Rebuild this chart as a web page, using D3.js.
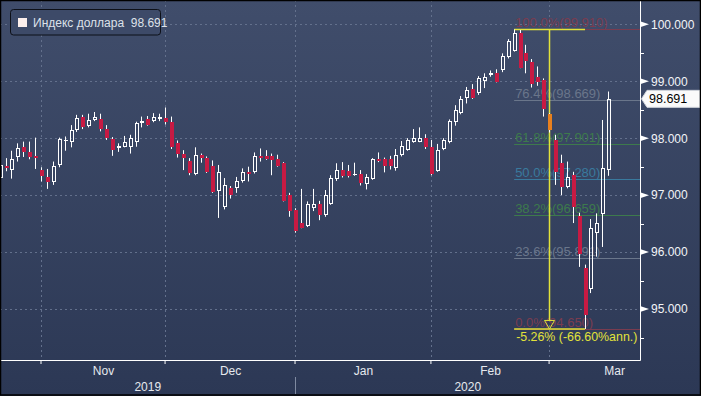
<!DOCTYPE html>
<html>
<head>
<meta charset="utf-8">
<script src="https://cdnjs.cloudflare.com/ajax/libs/d3/7.8.5/d3.min.js"></script>
<style>
  html, body { margin: 0; padding: 0; background: #000; }
  svg { display: block; font-family: "Liberation Sans", Arial, sans-serif; }
</style>
</head>
<body>
<div id="chart"></div>
<script>
// daily candles (weekdays), 23 Oct 2019 .. 16 Mar 2020
const opens = [97.30, 97.51, 97.44, 97.67, 97.85, 97.76, 97.69,
  97.44, 97.31, 97.23, 97.53, 97.95, 97.94, 98.14, 98.37, 98.21, 98.32, 98.33, 98.16, 97.98, 97.82, 97.85, 97.85, 97.94, 98.26, 98.33, 98.31, 98.33,
  98.35, 98.28, 97.91, 97.72, 97.60, 97.37, 97.70, 97.65, 97.51, 97.08, 96.80, 97.12, 97.13, 97.24, 97.41, 97.40, 97.69, 97.68, 97.68, 97.63, 97.56, 97.00,
  96.74, 96.51, 96.46, 96.78, 96.84, 96.65, 96.84, 97.28, 97.44, 97.42, 97.35, 97.37, 97.19, 97.28, 97.63, 97.63, 97.63, 97.48, 97.70, 97.79, 97.94, 97.94, 98.01,
  97.85, 97.42, 97.81, 97.93, 98.29, 98.45, 98.70, 98.86, 98.79, 99.00, 99.11, 99.14, 99.19, 99.43, 99.54, 99.85, 99.49, 99.34, 99.07, 99.02,
  98.42, 97.97, 97.56, 97.15, 97.35, 96.63, 95.72, 95.35, 96.33, 96.67, 97.45];
const highs = [97.59, 97.65, 97.78, 97.91, 97.94, 97.94, 98.01,
  97.49, 97.46, 97.59, 98.01, 98.03, 98.23, 98.41, 98.41, 98.43, 98.46, 98.43, 98.23, 98.02, 97.91, 98.04, 98.06, 98.29, 98.38, 98.39, 98.44, 98.43,
  98.54, 98.38, 97.96, 97.79, 97.65, 97.84, 97.73, 97.68, 97.61, 97.53, 97.30, 97.16, 97.32, 97.47, 97.50, 97.75, 97.82, 97.79, 97.73, 97.71, 97.58, 97.04,
  96.77, 97.11, 96.89, 97.11, 96.90, 97.09, 97.35, 97.56, 97.58, 97.53, 97.57, 97.44, 97.37, 97.65, 97.75, 97.66, 97.69, 97.81, 97.95, 98.00, 98.16, 98.19, 98.07,
  97.97, 97.90, 98.00, 98.33, 98.58, 98.74, 98.90, 98.95, 99.09, 99.14, 99.19, 99.21, 99.49, 99.74, 99.91, 99.90, 99.64, 99.39, 99.26, 99.05,
  98.44, 98.06, 97.71, 97.59, 97.41, 96.69, 95.78, 96.58, 96.68, 98.32, 98.82];
const lows = [97.24, 97.42, 97.29, 97.59, 97.67, 97.63, 97.46,
  97.24, 97.11, 97.18, 97.49, 97.78, 97.84, 98.11, 98.16, 98.19, 98.30, 98.12, 97.97, 97.69, 97.76, 97.84, 97.73, 97.85, 98.19, 98.22, 98.28, 98.30,
  98.24, 97.81, 97.66, 97.44, 97.35, 97.35, 97.57, 97.39, 97.04, 96.60, 96.75, 96.94, 97.04, 97.22, 97.24, 97.38, 97.59, 97.62, 97.35, 97.50, 96.89, 96.62,
  96.34, 96.42, 96.44, 96.72, 96.56, 96.62, 96.83, 97.25, 97.31, 97.31, 97.34, 97.17, 97.10, 97.27, 97.58, 97.40, 97.45, 97.43, 97.68, 97.78, 97.92, 97.93, 97.81,
  97.35, 97.41, 97.79, 97.91, 98.22, 98.42, 98.61, 98.69, 98.76, 98.88, 99.08, 98.98, 99.16, 99.40, 99.52, 99.23, 99.14, 98.89, 98.92, 98.38,
  98.10, 97.18, 97.00, 97.12, 96.51, 95.74, 94.65, 95.28, 95.92, 96.09, 97.34];
const closes = [97.53, 97.48, 97.63, 97.82, 97.76, 97.67, 97.65,
  97.34, 97.23, 97.51, 97.99, 97.97, 98.14, 98.35, 98.19, 98.32, 98.37, 98.16, 98.01, 97.79, 97.86, 97.94, 98.00, 98.26, 98.31, 98.24, 98.37, 98.38,
  98.28, 97.85, 97.73, 97.65, 97.39, 97.70, 97.65, 97.41, 97.06, 97.40, 97.18, 97.00, 97.24, 97.41, 97.37, 97.69, 97.65, 97.63, 97.62, 97.52, 96.90, 96.73,
  96.37, 96.43, 96.84, 96.84, 96.66, 97.00, 97.30, 97.45, 97.34, 97.34, 97.37, 97.22, 97.31, 97.63, 97.60, 97.51, 97.51, 97.70, 97.86, 97.97, 98.01, 98.00, 97.85,
  97.37, 97.80, 97.96, 98.30, 98.49, 98.68, 98.85, 98.71, 99.05, 99.07, 99.14, 98.99, 99.44, 99.71, 99.85, 99.24, 99.36, 98.96, 98.99, 98.51,
  98.14, 97.41, 97.15, 97.32, 96.80, 95.97, 94.90, 96.42, 96.51, 97.47, 98.691];

const monthNames = ["Nov", "Dec", "Jan", "Feb", "Mar"];
const yearLabels = ["2019", "2020"];
const yTicks = [95, 96, 97, 98, 99, 100];
const yHalfTicks = [94.5, 95.5, 96.5, 97.5, 98.5, 99.5];
const fibLevels = [1, 0.764, 0.618, 0.5, 0.382, 0.236, 0];
const fibColors = ["#7a3c50", "#6a768b", "#3d7a4c", "#3a7a9e", "#3d7a4c", "#6a768b", "#7a3c50"];
const seriesName = "Индекс доллара";
const measureText = "-5.26% (-66.60%ann.)";

// setting up svg and its dimensions
var w = 701, h = 396;
var plotW = 640, plotH = 360;

// trading days (weekdays) for the category axis, running to the end of March
const days = d3.timeDay.range(new Date(2019, 9, 23), new Date(2020, 3, 1))
    .filter(d => d.getDay() !== 0 && d.getDay() !== 6);

const data = opens.map((o, i) => ({ date: days[i], o: o, h: highs[i], l: lows[i], c: closes[i] }));

var svg = d3.select("#chart")
    .append("svg")
    .attr("width", w)
    .attr("height", h);

var defs = svg.append("defs");
var grad = defs.append("linearGradient")
    .attr("id", "bg").attr("x1", 0).attr("y1", 0).attr("x2", 0).attr("y2", 1);
grad.append("stop").attr("offset", "0%").attr("stop-color", "#404d6b");
grad.append("stop").attr("offset", "100%").attr("stop-color", "#2c3855");
defs.append("clipPath").attr("id", "plotclip")
    .append("rect").attr("width", plotW).attr("height", plotH);

svg.append("rect").attr("width", w).attr("height", h).attr("fill", "url(#bg)");

// scales
var step = 5.908;
var x = d3.scaleBand()
    .domain(days)
    .range([-2.81, -2.81 + days.length * step]);
const cx = d => x(d) + x.bandwidth() / 2;

var y = d3.scaleLinear()
    .domain([94.105, 100.427])
    .range([plotH, 0]);

const px = v => Math.round(v) + 0.5;

// first trading day of every month
const monthStarts = days.filter((d, i) => i > 0 && d.getMonth() !== days[i - 1].getMonth());

// grid
var grid = svg.append("g")
    .attr("stroke", "#63708c")
    .attr("stroke-dasharray", "2,3");
grid.selectAll("line.h").data(yTicks).join("line")
    .attr("class", "h")
    .attr("x1", 0).attr("x2", plotW)
    .attr("y1", d => px(y(d))).attr("y2", d => px(y(d)));
grid.selectAll("line.v").data(monthStarts).join("line")
    .attr("class", "v")
    .attr("x1", d => px(cx(d) - 0.5)).attr("x2", d => px(cx(d) - 0.5))
    .attr("y1", 0).attr("y2", plotH);

// fibonacci retracement between the highest high and the lowest low
const hiIdx = d3.maxIndex(highs), loIdx = d3.minIndex(lows);
const hi = highs[hiIdx], lo = lows[loIdx];
const fibX = cx(days[hiIdx]);
const fmt3 = d3.format(".3f");

var plot = svg.append("g").attr("clip-path", "url(#plotclip)");

var fib = plot.append("g");
fib.selectAll("line").data(fibLevels).join("line")
    .attr("x1", fibX).attr("x2", plotW)
    .attr("y1", d => px(y(lo + d * (hi - lo))))
    .attr("y2", d => px(y(lo + d * (hi - lo))))
    .attr("stroke", (d, i) => fibColors[i]);
fib.selectAll("text").data(fibLevels).join("text")
    .attr("x", fibX + 1)
    .attr("y", d => y(lo + d * (hi - lo)) - 2)
    .attr("fill", (d, i) => fibColors[i])
    .style("font-size", "13px")
    .text(d => `${(d * 100).toFixed(1)}%(${fmt3(lo + d * (hi - lo))})`);

// measuring tool: high -> low, vertical drawn halfway
const midIdx = Math.round((hiIdx + loIdx) / 2);
const mx = px(cx(days[midIdx]) - 0.5);
const x1 = cx(days[hiIdx]), x2 = cx(days[loIdx]);
var yellow = "#e2e23a";
var meas = plot.append("g").attr("stroke", yellow).attr("stroke-width", 1.5).attr("fill", "none");
meas.append("line").attr("x1", x1).attr("x2", x2).attr("y1", y(hi)).attr("y2", y(hi));
meas.append("line").attr("x1", x1).attr("x2", x2).attr("y1", y(lo)).attr("y2", y(lo));
meas.append("line").attr("x1", mx).attr("x2", mx).attr("y1", y(hi)).attr("y2", y(lo) - 8);
meas.append("path")
    .attr("stroke-width", 1)
    .attr("d", `M${mx - 5},${y(lo) - 8.5}L${mx + 5},${y(lo) - 8.5}L${mx},${y(lo)}Z`);
svg.append("text")
    .attr("x", x1 + 2).attr("y", y(lo) + 12)
    .attr("fill", yellow)
    .style("font-size", "12.4px")
    .text(measureText);

// candles
var red = "#c71a43";
var candle = plot.selectAll("g.candle").data(data).join("g").attr("class", "candle");
candle.each(function (d, i) {
    var g = d3.select(this);
    var k = Math.round(cx(d.date) - 0.5);
    var top = Math.round(y(Math.max(d.o, d.c))), bot = Math.round(y(Math.min(d.o, d.c)));
    var hy = y(d.h), ly = y(d.l);
    if (d.c >= d.o) {
        g.append("line").attr("x1", k + 0.5).attr("x2", k + 0.5).attr("y1", hy).attr("y2", top)
            .attr("stroke", "#fff");
        g.append("line").attr("x1", k + 0.5).attr("x2", k + 0.5).attr("y1", bot).attr("y2", ly)
            .attr("stroke", "#fff");
        if (bot - top < 2) {
            g.append("line").attr("x1", k - 1).attr("x2", k + 3).attr("y1", top + 0.5).attr("y2", top + 0.5)
                .attr("stroke", "#fff");
        } else {
            g.append("rect").attr("x", k - 0.5).attr("y", top + 0.5)
                .attr("width", 3).attr("height", bot - top - 1)
                .attr("fill", "none").attr("stroke", "#fff");
        }
    } else {
        g.append("line").attr("x1", k + 0.5).attr("x2", k + 0.5).attr("y1", hy).attr("y2", ly)
            .attr("stroke", "#fff");
        g.append("rect").attr("x", k - 1).attr("y", top)
            .attr("width", 4).attr("height", Math.max(bot - top, 1))
            .attr("fill", i === midIdx ? "#e8801e" : red);
    }
});

// bottom axis
var xAxis = d3.axisBottom(x)
    .tickValues(monthStarts)
    .tickSize(4)
    .tickFormat("");
svg.append("g")
    .attr("transform", `translate(-0.5, ${plotH})`)
    .call(xAxis)
    .call(g => g.select(".domain").remove())
    .call(g => g.selectAll("line").attr("stroke", "#fff"));
svg.append("line")
    .attr("x1", 0).attr("x2", plotW + 0.5)
    .attr("y1", plotH + 0.5).attr("y2", plotH + 0.5)
    .attr("stroke", "#fff");

const lastDay = days[days.length - 1];
svg.append("g").selectAll("text").data(monthStarts).join("text")
    .attr("x", (d, i) => {
        var next = i < monthStarts.length - 1 ? cx(monthStarts[i + 1]) : cx(lastDay) + step;
        return (cx(d) + next) / 2;
    })
    .attr("y", 375)
    .attr("text-anchor", "middle")
    .attr("fill", "#e6e9ee")
    .style("font-size", "12px")
    .text((d, i) => monthNames[i]);

const yearStart = cx(monthStarts[2]);
svg.append("line")
    .attr("x1", px(yearStart - 0.5)).attr("x2", px(yearStart - 0.5))
    .attr("y1", 377).attr("y2", 394)
    .attr("stroke", "#7f8aa1");
svg.append("g").selectAll("text").data(yearLabels).join("text")
    .attr("x", (d, i) => i === 0 ? yearStart / 2 : (yearStart + plotW) / 2)
    .attr("y", 391)
    .attr("text-anchor", "middle")
    .attr("fill", "#e6e9ee")
    .style("font-size", "12px")
    .text(d => d);

// right axis
var yAxis = d3.axisRight(y)
    .tickValues(yTicks)
    .tickFormat(fmt3)
    .tickSize(0)
    .tickPadding(11);
svg.append("g")
    .attr("transform", `translate(${plotW}, 0)`)
    .call(yAxis)
    .call(g => g.select(".domain").attr("stroke", "#fff"))
    .call(g => g.selectAll("text").attr("fill", "#f2f4f7").style("font-size", "12px")
        .style("font-family", "'Liberation Sans', Arial, sans-serif"));

svg.append("g").selectAll("path").data(yTicks).join("path")
    .attr("d", d => `M${plotW},${y(d) - 3}L${plotW + 9},${y(d)}L${plotW},${y(d) + 3}Z`)
    .attr("fill", "#fff");
svg.append("g").selectAll("line").data(yHalfTicks).join("line")
    .attr("x1", plotW).attr("x2", plotW + 4)
    .attr("y1", d => px(y(d))).attr("y2", d => px(y(d)))
    .attr("stroke", "#fff");

// last price tag
const last = closes[closes.length - 1];
const ly = y(last);
svg.append("path")
    .attr("d", `M${plotW + 1.5},${ly}L${plotW + 7},${ly - 8.5}H700V${ly + 8.5}H${plotW + 7}Z`)
    .attr("fill", "#fafafa")
    .attr("stroke", "#cfd3da");
svg.append("text")
    .attr("x", plotW + 9).attr("y", ly + 4.5)
    .attr("fill", "#000")
    .style("font-size", "12.5px")
    .text(fmt3(last));

// legend
var legend = svg.append("g");
legend.append("rect")
    .attr("x", 10.5).attr("y", 9.5).attr("width", 150).attr("height", 25.5).attr("rx", 3)
    .attr("fill", "#3d4a68").attr("stroke", "#0d1018");
legend.append("rect")
    .attr("x", 18).attr("y", 18).attr("width", 9).attr("height", 9)
    .attr("fill", "#fcefec");
legend.append("text")
    .attr("x", 33).attr("y", 27)
    .attr("fill", "#dde2ea")
    .style("font-size", "12px")
    .style("white-space", "pre")
    .text(`${seriesName}  ${fmt3(last)}`);

// frame
svg.append("rect")
    .attr("x", 0.5).attr("y", 0.5).attr("width", w - 1).attr("height", h - 1.5)
    .attr("fill", "none").attr("stroke", "#000").attr("stroke-width", 1.5);
</script>
</body>
</html>
